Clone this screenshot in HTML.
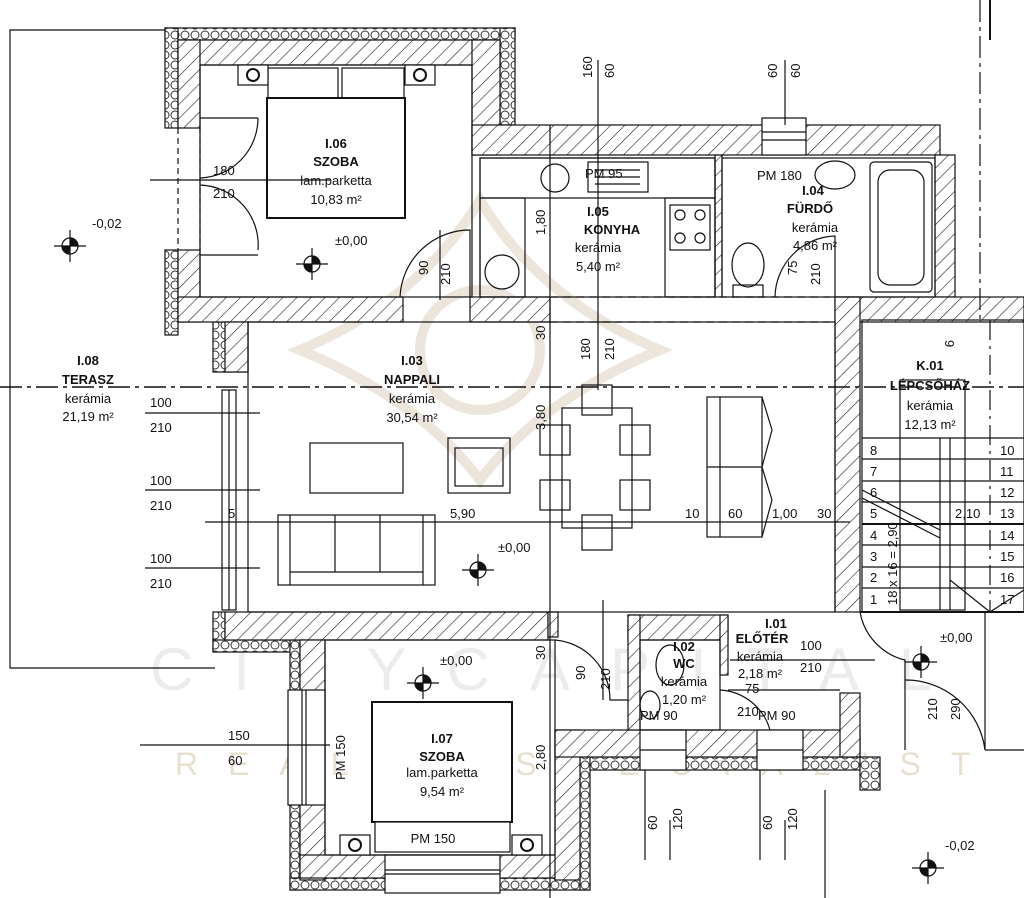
<!DOCTYPE html>
<html><head><meta charset="utf-8"><style>
html,body{margin:0;padding:0;background:#fff}
svg{display:block}
text{font-family:"Liberation Sans",sans-serif;fill:#111}
.t{font-size:13px}
.b{font-size:13px;font-weight:bold}
</style></head><body>
<svg width="1024" height="898" viewBox="0 0 1024 898" xmlns="http://www.w3.org/2000/svg">
<defs>
<pattern id="h" width="10" height="10" patternUnits="userSpaceOnUse" patternTransform="rotate(45)">
<rect width="10" height="10" fill="#fff"/><line x1="0" y1="0" x2="0" y2="10" stroke="#222" stroke-width="1.2"/></pattern>
<pattern id="ins" width="10" height="10" patternUnits="userSpaceOnUse">
<rect width="10" height="10" fill="#fff"/><circle cx="5" cy="5" r="4" fill="none" stroke="#333" stroke-width="1"/></pattern>
</defs>
<g fill="none" stroke="#c9b79a" stroke-width="10" opacity="0.35">
<path d="M300 350 Q420 300 480 200 Q540 300 660 350 Q540 400 480 480 Q420 400 300 350Z"/>
<circle cx="480" cy="350" r="60"/>
</g>
<text x="150" y="690" font-size="60" fill="#eee" style="fill:#ececec;letter-spacing:40px">CITYCAPITAL</text>
<text x="175" y="775" font-size="32" style="fill:#e8dfcf;letter-spacing:30px">REALTY SPECIALIST</text>

<g stroke="#111" stroke-width="1.2">
<!-- terrace -->
<polyline points="165,30 10,30 10,668 215,668" fill="none"/>
<!-- insulation bands -->
<rect x="165" y="28" width="350" height="12" fill="url(#ins)"/>
<rect x="165" y="28" width="13" height="100" fill="url(#ins)"/>
<rect x="165" y="250" width="13" height="85" fill="url(#ins)"/>
<rect x="500" y="28" width="15" height="97" fill="url(#ins)"/>
<rect x="213" y="612" width="12" height="38" fill="url(#ins)"/>
<rect x="213" y="640" width="87" height="12" fill="url(#ins)"/>
<rect x="290" y="640" width="10" height="250" fill="url(#ins)"/>
<rect x="290" y="878" width="300" height="12" fill="url(#ins)"/>
<rect x="580" y="757" width="280" height="13" fill="url(#ins)"/>
<rect x="860" y="757" width="20" height="33" fill="url(#ins)"/>
<rect x="580" y="757" width="10" height="133" fill="url(#ins)"/>
<rect x="213" y="322" width="35" height="50" fill="url(#ins)"/>
<!-- hatched walls -->
<rect x="178" y="40" width="322" height="25" fill="url(#h)"/>
<rect x="178" y="40" width="22" height="88" fill="url(#h)"/>
<rect x="178" y="250" width="22" height="72" fill="url(#h)"/>
<rect x="472" y="40" width="28" height="115" fill="url(#h)"/>
<rect x="472" y="125" width="468" height="30" fill="url(#h)"/>
<rect x="178" y="297" width="225" height="25" fill="url(#h)"/>
<rect x="470" y="297" width="80" height="25" fill="url(#h)"/>
<rect x="935" y="155" width="20" height="142" fill="url(#h)"/>
<rect x="715" y="155" width="7" height="142" fill="url(#h)"/>
<rect x="835" y="297" width="189" height="25" fill="url(#h)"/>
<rect x="835" y="297" width="25" height="315" fill="url(#h)"/>
<rect x="225" y="322" width="23" height="50" fill="url(#h)"/>
<rect x="225" y="612" width="323" height="28" fill="url(#h)"/>
<rect x="300" y="640" width="25" height="240" fill="url(#h)"/>
<rect x="300" y="855" width="280" height="23" fill="url(#h)"/>
<rect x="555" y="730" width="25" height="150" fill="url(#h)"/>
<rect x="555" y="730" width="305" height="27" fill="url(#h)"/>
<rect x="628" y="615" width="100" height="25" fill="url(#h)"/>
<rect x="628" y="615" width="12" height="115" fill="url(#h)"/>
<rect x="720" y="615" width="8" height="60" fill="url(#h)"/>
<rect x="840" y="693" width="20" height="64" fill="url(#h)"/>
<rect x="548" y="612" width="10" height="25" fill="url(#h)"/>
<!-- windows -->
<rect x="762" y="118" width="44" height="37" fill="#fff"/>
<line x1="762" y1="132" x2="806" y2="132"/><line x1="762" y1="140" x2="806" y2="140"/>
<rect x="288" y="690" width="37" height="115" fill="#fff"/>
<line x1="302" y1="690" x2="302" y2="805"/><line x1="306" y1="690" x2="306" y2="805"/>
<rect x="385" y="855" width="115" height="38" fill="#fff"/>
<line x1="385" y1="870" x2="500" y2="870"/><line x1="385" y1="874" x2="500" y2="874"/>
<rect x="640" y="730" width="46" height="40" fill="#fff"/>
<rect x="757" y="730" width="46" height="40" fill="#fff"/>
<line x1="640" y1="750" x2="686" y2="750"/><line x1="757" y1="750" x2="803" y2="750"/>
<rect x="222" y="390" width="14" height="220" fill="#fff"/>
<line x1="229" y1="390" x2="229" y2="610"/>
<!-- bedroom doors -->
<line x1="178" y1="128" x2="178" y2="250" stroke-dasharray="6,4"/>
<line x1="200" y1="128" x2="200" y2="250" stroke-dasharray="6,4"/>
<path d="M200 118 H258 M200 255 H258 M258 118 A60 60 0 0 1 200 178 M258 250 A60 60 0 0 0 200 185" fill="none"/>
<path d="M400 297 A70 70 0 0 1 470 230 V297" fill="none"/>
<!-- interior outlines -->
<rect x="200" y="65" width="272" height="232" fill="none"/>
<rect x="480" y="158" width="235" height="139" fill="none"/>
<rect x="722" y="158" width="213" height="139" fill="none"/>
<rect x="248" y="322" width="587" height="290" fill="none"/>
<rect x="325" y="640" width="230" height="215" fill="none"/>
<line x1="550" y1="297" x2="830" y2="297" stroke-dasharray="8,5"/>
<line x1="550" y1="322" x2="830" y2="322" stroke-dasharray="8,5"/>
<!-- bed 1 -->
<rect x="268" y="68" width="70" height="30" fill="#fff"/><rect x="342" y="68" width="62" height="30" fill="#fff"/>
<rect x="267" y="98" width="138" height="120" fill="#fff" stroke-width="2"/>
<rect x="238" y="65" width="30" height="20" fill="#fff"/><rect x="405" y="65" width="30" height="20" fill="#fff"/>
<circle cx="253" cy="75" r="6" fill="none" stroke-width="2"/><circle cx="420" cy="75" r="6" fill="none" stroke-width="2"/>
<!-- bed 2 -->
<rect x="372" y="702" width="140" height="120" fill="#fff" stroke-width="2"/>
<rect x="375" y="822" width="135" height="30" fill="#fff"/>
<rect x="340" y="835" width="30" height="20" fill="#fff"/><rect x="512" y="835" width="30" height="20" fill="#fff"/>
<circle cx="355" cy="845" r="6" fill="none" stroke-width="2"/><circle cx="527" cy="845" r="6" fill="none" stroke-width="2"/>
<!-- kitchen -->
<rect x="480" y="158" width="235" height="40" fill="none"/>
<rect x="480" y="198" width="45" height="99" fill="none"/>
<rect x="665" y="198" width="50" height="99" fill="none"/>
<circle cx="555" cy="178" r="14" fill="none"/>
<circle cx="502" cy="272" r="17" fill="none"/>
<rect x="588" y="162" width="60" height="30" fill="none"/>
<line x1="595" y1="170" x2="640" y2="170"/><line x1="595" y1="177" x2="640" y2="177"/><line x1="595" y1="184" x2="640" y2="184"/>
<rect x="670" y="205" width="40" height="45" fill="none"/>
<circle cx="680" cy="215" r="5" fill="none"/><circle cx="700" cy="215" r="5" fill="none"/>
<circle cx="680" cy="238" r="5" fill="none"/><circle cx="700" cy="238" r="5" fill="none"/>
<!-- bathroom -->
<rect x="870" y="162" width="62" height="130" rx="4" fill="none"/>
<rect x="878" y="170" width="46" height="115" rx="12" fill="none"/>
<ellipse cx="835" cy="175" rx="20" ry="14" fill="none"/>
<ellipse cx="748" cy="265" rx="16" ry="22" fill="none"/>
<rect x="733" y="285" width="30" height="12" fill="none"/>
<path d="M775 297 A62 62 0 0 1 835 236 V297" fill="none"/>
<!-- living furniture -->
<rect x="310" y="443" width="93" height="50" fill="none"/>
<rect x="278" y="515" width="157" height="70" fill="none"/>
<line x1="290" y1="515" x2="290" y2="585"/><line x1="423" y1="515" x2="423" y2="585"/>
<line x1="335" y1="515" x2="335" y2="572"/><line x1="380" y1="515" x2="380" y2="572"/><line x1="290" y1="572" x2="423" y2="572"/>
<rect x="448" y="438" width="62" height="55" fill="none"/>
<rect x="455" y="448" width="48" height="38" fill="none"/>
<rect x="562" y="408" width="70" height="120" fill="none"/>
<rect x="540" y="425" width="30" height="30" fill="none"/><rect x="540" y="480" width="30" height="30" fill="none"/>
<rect x="620" y="425" width="30" height="30" fill="none"/><rect x="620" y="480" width="30" height="30" fill="none"/>
<rect x="582" y="385" width="30" height="30" fill="none"/><rect x="582" y="515" width="30" height="35" fill="none"/>
<rect x="707" y="397" width="55" height="140" fill="none"/>
<line x1="707" y1="467" x2="762" y2="467"/><line x1="720" y1="397" x2="720" y2="537"/>
<path d="M762 397 L772 430 L762 467 L772 500 L762 537" fill="none"/>
<!-- stairs -->
<rect x="862" y="320" width="162" height="292" fill="none"/>
<rect x="900" y="380" width="65" height="230" fill="none"/>
<line x1="940" y1="438" x2="940" y2="610"/><line x1="950" y1="438" x2="950" y2="610"/>
<line x1="862" y1="438" x2="1024" y2="438"/><line x1="862" y1="459" x2="1024" y2="459"/>
<line x1="862" y1="481" x2="1024" y2="481"/><line x1="862" y1="502" x2="1024" y2="502"/>
<line x1="862" y1="524" x2="1024" y2="524" stroke-width="2"/><line x1="862" y1="545" x2="1024" y2="545"/>
<line x1="862" y1="567" x2="1024" y2="567"/><line x1="862" y1="588" x2="1024" y2="588"/>
<line x1="862" y1="490" x2="940" y2="530"/><line x1="862" y1="498" x2="940" y2="538"/>
<line x1="990" y1="320" x2="990" y2="612" stroke-dasharray="20,6,3,6"/>
<path d="M950 580 L990 612 L1024 590" fill="none"/>
<!-- WC & entrance -->
<rect x="640" y="640" width="80" height="90" fill="none"/>
<ellipse cx="670" cy="665" rx="14" ry="20" fill="none"/>
<ellipse cx="650" cy="705" rx="10" ry="14" fill="none"/>
<path d="M720 690 A55 55 0 0 1 770 730" fill="none"/>
<line x1="728" y1="690" x2="840" y2="690"/>
<path d="M860 612 A60 60 0 0 0 905 660 V750" fill="none"/>
<path d="M905 680 A80 80 0 0 1 985 750 V612" fill="none"/>
<line x1="985" y1="750" x2="1024" y2="750"/>
<line x1="860" y1="612" x2="1024" y2="612" stroke-width="2"/>
<path d="M555 640 A60 60 0 0 1 610 700 H628" fill="none"/>
<line x1="825" y1="790" x2="825" y2="898"/>
<!-- axis lines -->
<line x1="0" y1="387" x2="1024" y2="387" stroke-dasharray="22,5,4,5" stroke-width="1.5"/>
<line x1="990" y1="0" x2="990" y2="40" stroke-width="2"/>
<line x1="980" y1="0" x2="980" y2="320" stroke-dasharray="22,5,4,5"/>
<!-- dimension lines -->
<line x1="550" y1="125" x2="550" y2="898"/>
<line x1="598" y1="60" x2="598" y2="390"/>
<line x1="785" y1="60" x2="785" y2="125"/>
<line x1="150" y1="180" x2="330" y2="180"/>
<line x1="145" y1="413" x2="260" y2="413"/><line x1="145" y1="490" x2="260" y2="490"/><line x1="145" y1="568" x2="260" y2="568"/>
<line x1="205" y1="522" x2="850" y2="522"/>
<line x1="140" y1="745" x2="330" y2="745"/>
<line x1="730" y1="660" x2="875" y2="660"/>
<line x1="645" y1="770" x2="645" y2="860"/><line x1="760" y1="770" x2="760" y2="860"/>
<line x1="670" y1="820" x2="670" y2="860"/><line x1="785" y1="820" x2="785" y2="860"/>
<line x1="440" y1="230" x2="440" y2="300"/>
<line x1="603" y1="600" x2="603" y2="700"/>
</g>
<!-- level markers -->
<g stroke="#111" stroke-width="1.2">
<g transform="translate(70,246)"><line x1="-16" y1="0" x2="16" y2="0"/><line x1="0" y1="-16" x2="0" y2="16"/><circle r="8" fill="#fff"/><path d="M0 -8 A8 8 0 0 1 8 0 H0Z M0 8 A8 8 0 0 1 -8 0 H0Z" fill="#111"/></g>
<g transform="translate(312,264)"><line x1="-16" y1="0" x2="16" y2="0"/><line x1="0" y1="-16" x2="0" y2="16"/><circle r="8" fill="#fff"/><path d="M0 -8 A8 8 0 0 1 8 0 H0Z M0 8 A8 8 0 0 1 -8 0 H0Z" fill="#111"/></g>
<g transform="translate(478,570)"><line x1="-16" y1="0" x2="16" y2="0"/><line x1="0" y1="-16" x2="0" y2="16"/><circle r="8" fill="#fff"/><path d="M0 -8 A8 8 0 0 1 8 0 H0Z M0 8 A8 8 0 0 1 -8 0 H0Z" fill="#111"/></g>
<g transform="translate(423,683)"><line x1="-16" y1="0" x2="16" y2="0"/><line x1="0" y1="-16" x2="0" y2="16"/><circle r="8" fill="#fff"/><path d="M0 -8 A8 8 0 0 1 8 0 H0Z M0 8 A8 8 0 0 1 -8 0 H0Z" fill="#111"/></g>
<g transform="translate(921,662)"><line x1="-16" y1="0" x2="16" y2="0"/><line x1="0" y1="-16" x2="0" y2="16"/><circle r="8" fill="#fff"/><path d="M0 -8 A8 8 0 0 1 8 0 H0Z M0 8 A8 8 0 0 1 -8 0 H0Z" fill="#111"/></g>
<g transform="translate(928,868)"><line x1="-16" y1="0" x2="16" y2="0"/><line x1="0" y1="-16" x2="0" y2="16"/><circle r="8" fill="#fff"/><path d="M0 -8 A8 8 0 0 1 8 0 H0Z M0 8 A8 8 0 0 1 -8 0 H0Z" fill="#111"/></g>
</g>
<!-- labels -->
<g class="t" text-anchor="middle">
<text x="336" y="148" class="b">I.06</text><text x="336" y="166" class="b">SZOBA</text>
<text x="336" y="185">lam.parketta</text><text x="336" y="204">10,83 m²</text>
<text x="598" y="216" class="b">I.05</text><text x="612" y="234" class="b">KONYHA</text>
<text x="598" y="252">kerámia</text><text x="598" y="271">5,40 m²</text>
<text x="813" y="195" class="b">I.04</text><text x="810" y="213" class="b">FÜRDŐ</text>
<text x="815" y="232">kerámia</text><text x="815" y="250">4,86 m²</text>
<text x="412" y="365" class="b">I.03</text><text x="412" y="384" class="b">NAPPALI</text>
<text x="412" y="403">kerámia</text><text x="412" y="422">30,54 m²</text>
<text x="88" y="365" class="b">I.08</text><text x="88" y="384" class="b">TERASZ</text>
<text x="88" y="403">kerámia</text><text x="88" y="421">21,19 m²</text>
<text x="930" y="370" class="b">K.01</text><text x="930" y="390" class="b">LÉPCSŐHÁZ</text>
<text x="930" y="410">kerámia</text><text x="930" y="429">12,13 m²</text>
<text x="442" y="743" class="b">I.07</text><text x="442" y="761" class="b">SZOBA</text>
<text x="442" y="777">lam.parketta</text><text x="442" y="796">9,54 m²</text>
<text x="776" y="628" class="b">I.01</text><text x="762" y="643" class="b">ELŐTÉR</text>
<text x="760" y="661">kerámia</text><text x="760" y="678">2,18 m²</text>
<text x="684" y="651" class="b">I.02</text><text x="684" y="668" class="b">WC</text>
<text x="684" y="686">kerámia</text><text x="684" y="704">1,20 m²</text>
<text x="433" y="843">PM 150</text>
</g>
<g class="t">
<text x="92" y="228">-0,02</text><text x="335" y="245">±0,00</text><text x="498" y="552">±0,00</text>
<text x="440" y="665">±0,00</text><text x="940" y="642">±0,00</text><text x="945" y="850">-0,02</text>
<text x="213" y="175">180</text><text x="213" y="198">210</text>
<text x="150" y="407">100</text><text x="150" y="432">210</text>
<text x="150" y="485">100</text><text x="150" y="510">210</text>
<text x="150" y="563">100</text><text x="150" y="588">210</text>
<text x="228" y="740">150</text><text x="228" y="765">60</text>
<text x="800" y="650">100</text><text x="800" y="672">210</text>
<text x="745" y="693">75</text><text x="737" y="716">210</text>
<text x="758" y="720">PM 90</text><text x="640" y="720">PM 90</text>
<text x="585" y="178">PM 95</text><text x="757" y="180">PM 180</text>
<text x="450" y="518">5,90</text><text x="685" y="518">10</text><text x="728" y="518">60</text>
<text x="772" y="518">1,00</text><text x="817" y="518">30</text><text x="955" y="518">2,10</text><text x="228" y="518">5</text>
<text x="870" y="455">8</text><text x="870" y="476">7</text><text x="870" y="497">6</text><text x="870" y="518">5</text>
<text x="870" y="540">4</text><text x="870" y="561">3</text><text x="870" y="582">2</text><text x="870" y="604">1</text>
<text x="1000" y="455">10</text><text x="1000" y="476">11</text><text x="1000" y="497">12</text><text x="1000" y="518">13</text>
<text x="1000" y="540">14</text><text x="1000" y="561">15</text><text x="1000" y="582">16</text><text x="1000" y="604">17</text>
</g>
<g class="t">
<text transform="translate(592,78) rotate(-90)">160</text><text transform="translate(614,78) rotate(-90)">60</text>
<text transform="translate(777,78) rotate(-90)">60</text><text transform="translate(800,78) rotate(-90)">60</text>
<text transform="translate(545,235) rotate(-90)">1,80</text><text transform="translate(545,340) rotate(-90)">30</text>
<text transform="translate(590,360) rotate(-90)">180</text><text transform="translate(614,360) rotate(-90)">210</text>
<text transform="translate(545,430) rotate(-90)">3,80</text>
<text transform="translate(428,275) rotate(-90)">90</text><text transform="translate(450,285) rotate(-90)">210</text>
<text transform="translate(797,275) rotate(-90)">75</text><text transform="translate(820,285) rotate(-90)">210</text>
<text transform="translate(945,340) rotate(90)">9</text>
<text transform="translate(545,660) rotate(-90)">30</text><text transform="translate(545,770) rotate(-90)">2,80</text>
<text transform="translate(585,680) rotate(-90)">90</text><text transform="translate(610,690) rotate(-90)">210</text>
<text transform="translate(345,780) rotate(-90)">PM 150</text>
<text transform="translate(657,830) rotate(-90)">60</text><text transform="translate(682,830) rotate(-90)">120</text>
<text transform="translate(772,830) rotate(-90)">60</text><text transform="translate(797,830) rotate(-90)">120</text>
<text transform="translate(937,720) rotate(-90)">210</text><text transform="translate(960,720) rotate(-90)">290</text>
<text transform="translate(897,605) rotate(-90)">18 x 16 = 2,90</text>
</g>
</svg>
</body></html>
